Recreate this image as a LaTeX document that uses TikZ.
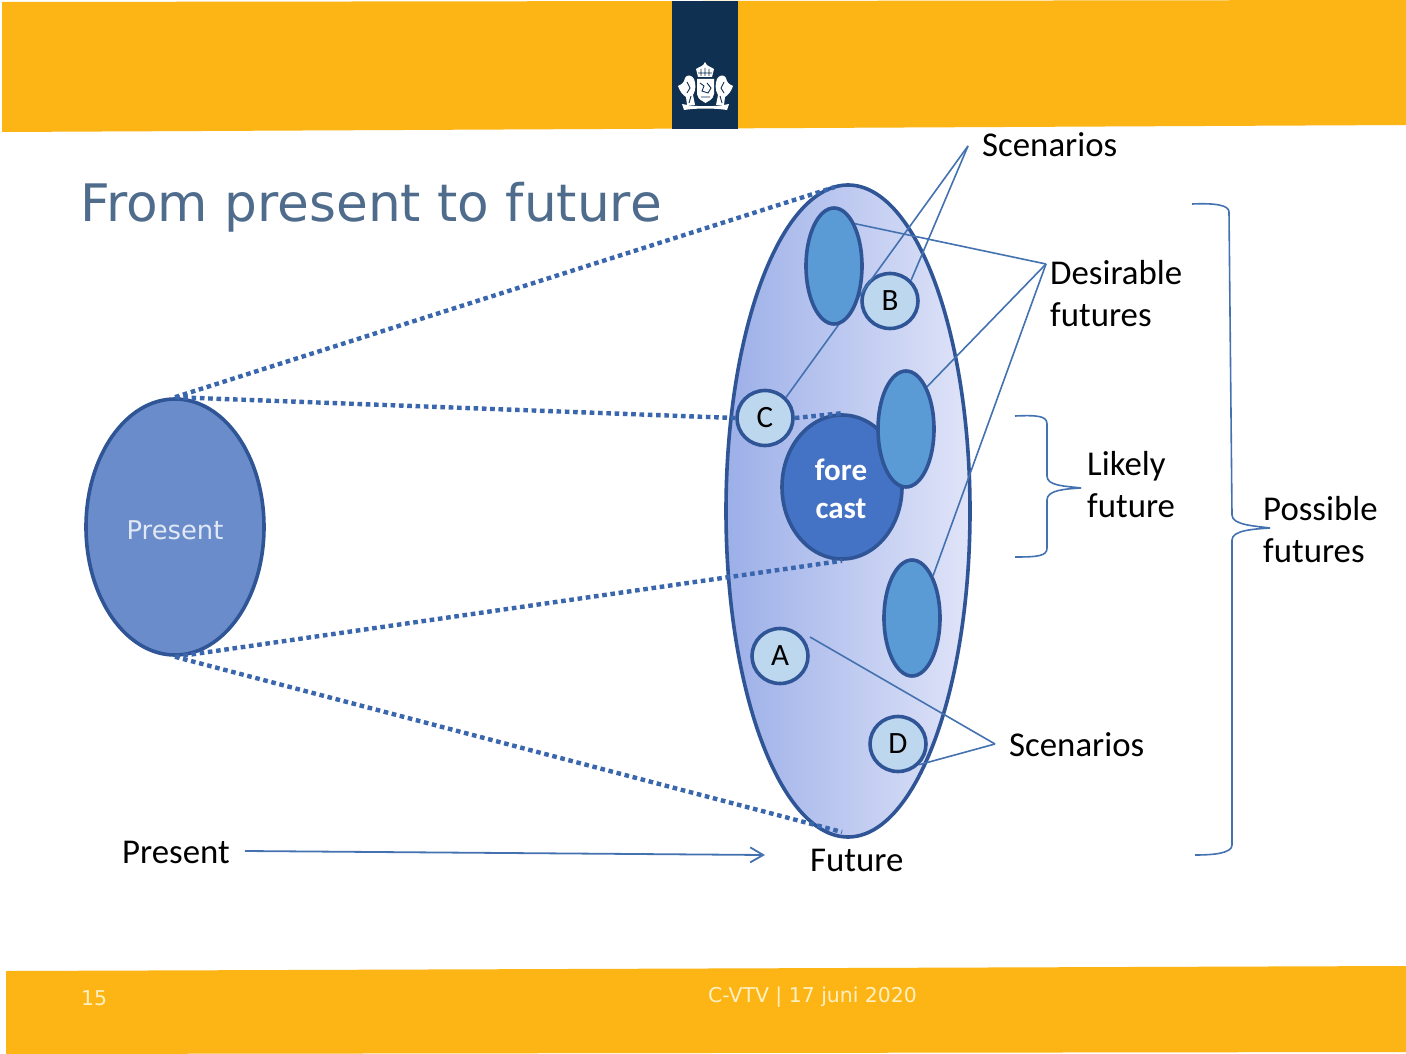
\documentclass[tikz,border=0pt]{standalone}
\usepackage{fontspec}
\setmainfont{Carlito}
\newfontfamily\verd{DejaVu Sans}
\usetikzlibrary{shapes.geometric,arrows.meta}
\definecolor{bandc}{HTML}{FDB515}
\definecolor{navy}{HTML}{0F3050}
\definecolor{edgec}{HTML}{2F5597}
\definecolor{dotc}{HTML}{3A66AD}
\definecolor{thinc}{HTML}{4472B0}
\definecolor{titlec}{HTML}{4F6C8C}
\definecolor{gradl}{RGB}{156,175,232}
\definecolor{gradr}{RGB}{224,228,248}
\definecolor{presc}{RGB}{106,140,202}
\definecolor{prest}{RGB}{225,232,245}
\definecolor{fcc}{RGB}{68,114,196}
\definecolor{futc}{RGB}{91,155,213}
\definecolor{letc}{RGB}{189,215,238}
\definecolor{foot}{RGB}{255,240,195}
\tikzset{
 elli/.style={ellipse,inner sep=0pt,draw=edgec,line width=3.6pt},
 fut/.style={elli,fill=futc,minimum width=56pt,minimum height=116pt},
 lett/.style={elli,fill=letc,minimum width=56pt,minimum height=55pt,font=\fontsize{31}{31}\selectfont,text=black},
 dots/.style={dotc,line width=4.4pt,dash pattern=on 4.6pt off 3.7pt},
 thinlink/.style={thinc,line width=1.6pt},
 brace/.style={thinc,line width=1.6pt},
 lab/.style={font=\fontsize{34.8}{42}\selectfont,align=left,text=black,inner sep=0pt},
 foottext/.style={anchor=base west,inner sep=0pt,text=foot,font=\verd\fontsize{20.4}{20.4}\selectfont},
}
\begin{document}
\begin{tikzpicture}[x=1pt,y=-1pt]
\useasboundingbox (0,0) rectangle (1406,1054);
\fill[white] (0,0) rectangle (1406,1054);
% bands
\fill[bandc] (2,2) -- (1406,0) -- (1406,125) -- (2,132) -- cycle;
\fill[bandc] (6,971) -- (1406,966) -- (1406,1052) -- (6,1054) -- cycle;
\fill[navy] (672,1) rectangle (738,129);
% crest
\begin{scope}[white]
 \fill (698,77) -- (696,69) .. controls (700,66) and (703,67) .. (705,62) .. controls (707,67) and (710,66) .. (714,69) -- (712,77) -- cycle;
 \fill (697,79) -- (714,79) -- (714,94) .. controls (713,100) and (708,101) .. (705.5,103) .. controls (703,101) and (698,100) .. (697,94) -- cycle;
 \fill (678,86) .. controls (682,84) and (684,83) .. (685,78) .. controls (687,74) and (692,75) .. (694,79) .. controls (696,84) and (696,90) .. (693,95) -- (695,105) -- (687,105) -- (686,97) .. controls (683,95) and (680,92) .. (678,86) -- cycle;
 \fill (733,86) .. controls (729,84) and (727,83) .. (726,78) .. controls (724,74) and (719,75) .. (717,79) .. controls (715,84) and (715,90) .. (718,95) -- (716,105) -- (724,105) -- (725,97) .. controls (728,95) and (731,92) .. (733,86) -- cycle;
 \fill (682,104) .. controls (695,107) and (716,107) .. (729,104) -- (727,110) .. controls (715,108) and (696,108) .. (684,110) -- cycle;
\end{scope}
\draw[navy,line width=.9pt] (698,73) -- (712,73) (701,69) -- (701,76) (705,68) -- (705,76) (709,69) -- (709,76)
  (700,83) -- (704,86) -- (702,91) -- (708,93) -- (711,88) -- (707,83) (701,97) -- (710,97)
  (687,82) -- (690,88) -- (687,93) (691,96) -- (689,103) (724,82) -- (721,88) -- (724,93) (720,96) -- (722,103);
% title
\node[anchor=base west,inner sep=0pt,text=titlec,font=\verd\fontsize{51.7}{51.7}\selectfont] (title) at (80,222) {From present to future};
\coordinate (scTop) at (968,146);
\coordinate (desA) at (1046,264);
\coordinate (scBot) at (995,744);
\coordinate (aEnd) at (810,637);
% big ellipse
\node[ellipse,inner sep=0pt,draw=edgec,line width=3.6pt,minimum width=244pt,minimum height=652pt,
  left color=gradl,right color=gradr] (future) at (848,511) {};
\node[elli,fill=presc,minimum width=178pt,minimum height=256pt] (present) at (175,527) {};
\node[text=prest,font=\verd\fontsize{25.8}{25.8}\selectfont,inner sep=0pt] (presLabel) at (175,530) {Present};
% dotted rays
\coordinate (fTop) at (835,187);
\coordinate (fBot) at (842,832);
\draw[dots] (present.north) -- (fTop);
\draw[dots] (present.south) -- (fBot);
% forecast
\node[elli,fill=fcc,minimum width=120pt,minimum height=144pt] (fc) at (842,487) {};
\node[text=white,align=center,inner sep=0pt,font=\bfseries\fontsize{31}{38}\selectfont] (fcLabel) at (841,489) {fore\\cast};
% letter circles
\node[lett] (B) at (890,301) {B};
\node[lett] (C) at (765,418) {C};
\node[lett] (A) at (780,656) {A};
\node[lett] (D) at (898,744) {D};
\draw[dots] (present.north) -- (C.west);
\draw[dots] (C.east) -- (fc.north);
\draw[dots] (present.south) -- (fc.south);
\draw[thinlink] (scTop) -- (C.north east);
\node[fut] (f1) at (834,266) {};
\node[fut] (f2) at (906,429) {};
\node[fut] (f3) at (912,618) {};
\draw[thinlink] (scTop) -- (B.north east);
\draw[thinlink] (desA) -- (f1.north east);
\draw[thinlink] (desA) -- (f2.north east);
\draw[thinlink] (desA) -- (f3.north east);
\draw[thinlink] (scBot) -- (aEnd);
\draw[thinlink] (scBot) -- (D.south east);
% braces
\draw[brace] (1192,204) .. controls (1215,203) and (1229,205) .. (1229,212) -- (1232,515) .. controls (1232,525) and (1255,526) .. (1270,528) .. controls (1255,529) and (1232,530) .. (1232,540) -- (1232,845) .. controls (1232,853) and (1215,855) .. (1195,855);
\draw[brace] (1015,416) .. controls (1038,415) and (1047,416) .. (1047,424) -- (1047,476) .. controls (1047,486) and (1065,486) .. (1081,488) .. controls (1065,489) and (1047,490) .. (1047,500) -- (1047,548) .. controls (1047,556) and (1038,557) .. (1015,557);
% labels
\node[lab,anchor=base west] (l1) at (982,157) {Scenarios};
\node[lab,anchor=base west] (l2) at (1050,326) {Desirable\\futures};
\node[lab,anchor=base west] (l3) at (1087,517) {Likely\\future};
\node[lab,anchor=base west] (l4) at (1263,562) {Possible\\futures};
\node[lab,anchor=base west] (l5) at (1009,756) {Scenarios};
\node[lab,anchor=base west] (l6) at (122,863) {Present};
\node[lab,anchor=base west] (l7) at (810,871) {Future};
\coordinate (aS) at (245,851);
\coordinate (aE) at (765,855);
\draw[thinc,line width=1.8pt,-{Straight Barb[length=13pt,width=15pt,line width=1.8pt]}] (aS) -- (aE);
% footer
\node[foottext] (pg) at (81,1005) {15};
\node[foottext] (ft) at (708,1002) {C-VTV | 17 juni 2020};
\end{tikzpicture}
\end{document}
